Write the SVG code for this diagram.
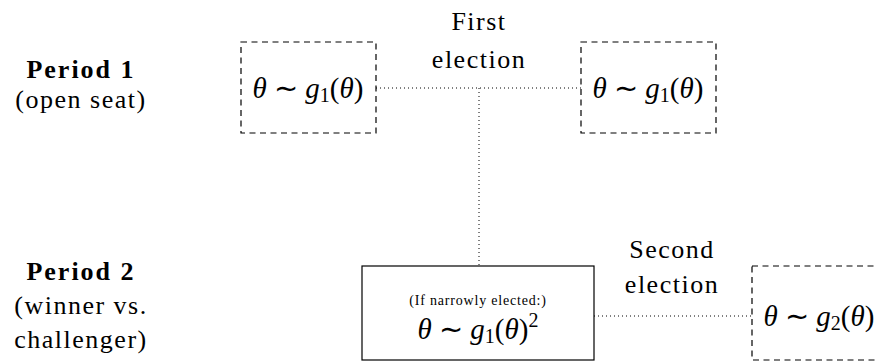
<svg xmlns="http://www.w3.org/2000/svg" width="877" height="362" viewBox="0 0 877 362">
<style>
.dash{fill:none;stroke:#000;stroke-width:1.2;stroke-dasharray:6 4.5}
.solid{fill:none;stroke:#000;stroke-width:1.2}
.dot{fill:none;stroke:#000;stroke-width:1;stroke-dasharray:1 3}
</style>
<rect width="877" height="362" fill="#fff"/>
<g id="labels" font-family="Times New Roman, Liberation Serif, serif" font-size="26" text-anchor="middle">
<text x="81" y="78" font-weight="bold" letter-spacing="2">Period 1</text>
<text x="81" y="108" letter-spacing="1.5">(open seat)</text>
<text x="81" y="280" font-weight="bold" letter-spacing="2">Period 2</text>
<text x="81" y="314" letter-spacing="1.5">(winner vs.</text>
<text x="81" y="348" letter-spacing="1.5">challenger)</text>
</g>
<g id="connectors" font-family="Times New Roman, Liberation Serif, serif" font-size="26" text-anchor="middle">
<path class="dot" d="M376 88H581"/>
<path class="dot" d="M479 88V266"/>
<path class="dot" d="M594 316H752"/>
<text x="479" y="30" letter-spacing="1.5">First</text>
<text x="479" y="68" letter-spacing="1.5">election</text>
<text x="672" y="258" letter-spacing="1.5">Second</text>
<text x="672" y="293" letter-spacing="1.5">election</text>
</g>
<g id="node1" font-family="Times New Roman, Liberation Serif, serif" text-anchor="middle">
<rect class="dash" x="241" y="42" width="135" height="91"/>
<text x="308" y="98" font-size="29"><tspan font-style="italic">θ</tspan> ∼ <tspan font-style="italic">g</tspan><tspan font-size="20" dy="4">1</tspan><tspan dy="-4">(</tspan><tspan font-style="italic">θ</tspan>)</text>
</g>
<g id="node2" font-family="Times New Roman, Liberation Serif, serif" text-anchor="middle">
<rect class="dash" x="581" y="42" width="135" height="91"/>
<text x="648" y="98" font-size="29"><tspan font-style="italic">θ</tspan> ∼ <tspan font-style="italic">g</tspan><tspan font-size="20" dy="4">1</tspan><tspan dy="-4">(</tspan><tspan font-style="italic">θ</tspan>)</text>
</g>
<g id="node3" font-family="Times New Roman, Liberation Serif, serif" text-anchor="middle">
<rect class="solid" x="362" y="266" width="232" height="94"/>
<text x="478" y="305" font-size="14" letter-spacing="0.8">(If narrowly elected:)</text>
<text x="478" y="339" font-size="29"><tspan font-style="italic">θ</tspan> ∼ <tspan font-style="italic">g</tspan><tspan font-size="20" dy="4">1</tspan><tspan dy="-4">(</tspan><tspan font-style="italic">θ</tspan>)<tspan font-size="20" dy="-12">2</tspan></text>
</g>
<g id="node4" font-family="Times New Roman, Liberation Serif, serif" text-anchor="middle">
<rect class="dash" x="752" y="266" width="135" height="94"/>
<text x="819" y="326" font-size="29"><tspan font-style="italic">θ</tspan> ∼ <tspan font-style="italic">g</tspan><tspan font-size="20" dy="4">2</tspan><tspan dy="-4">(</tspan><tspan font-style="italic">θ</tspan>)</text>
</g>
</svg>
